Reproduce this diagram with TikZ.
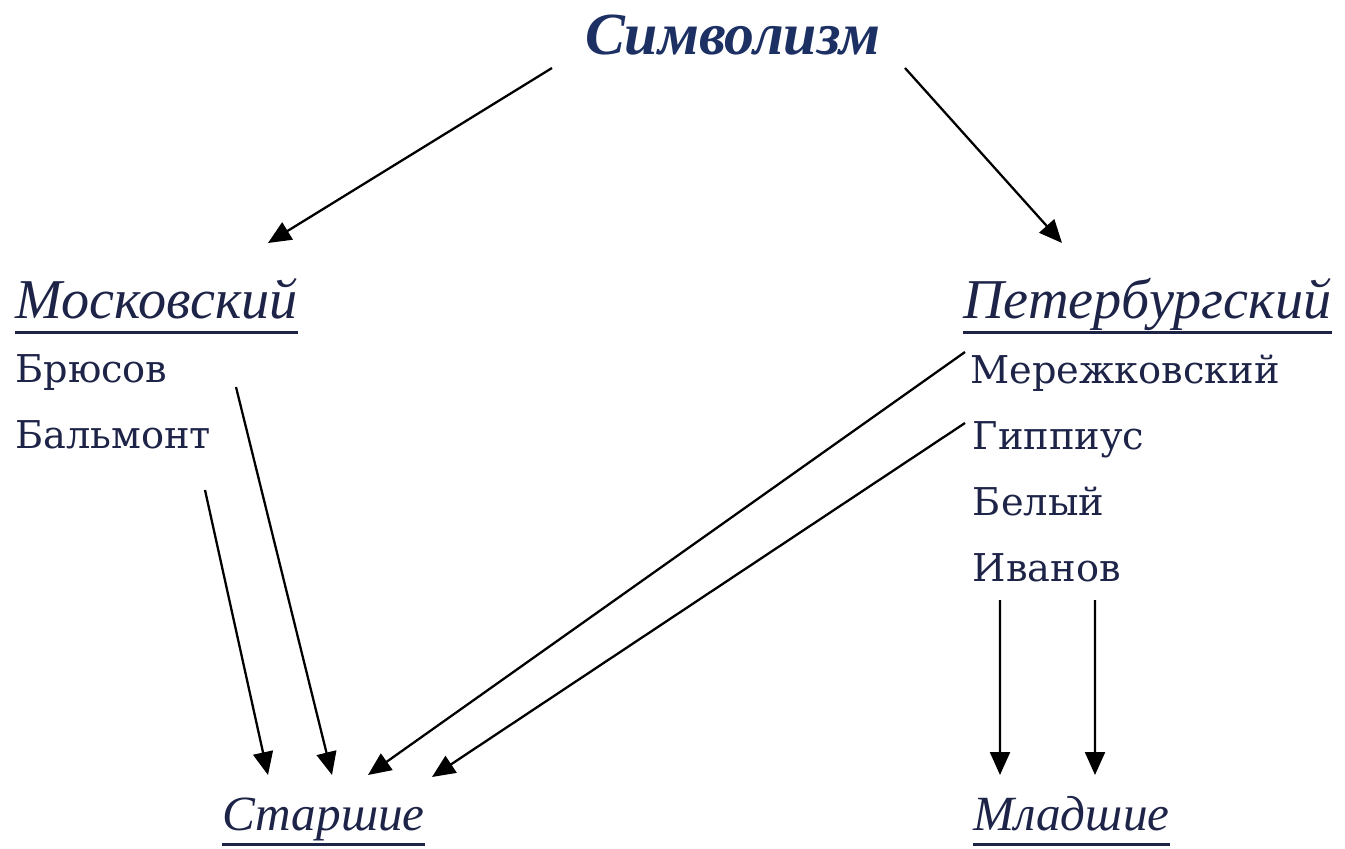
\documentclass[tikz,border=0pt]{standalone}
\usepackage{fontspec}
\setmainfont{Liberation Serif}
\newfontfamily\poetfont{DejaVu Serif}
\usetikzlibrary{arrows.meta}
\definecolor{titleblue}{RGB}{28,48,100}
\definecolor{inknavy}{RGB}{30,36,72}

\begin{document}
\begin{tikzpicture}[
		arr/.style={line width=1.3pt, -{Triangle[length=0.46cm,width=0.4cm]}},
		head/.style={inner sep=0, anchor=base west, text=inknavy, font=\fontsize{32}{32}\selectfont\itshape},
		gen/.style={head, font=\fontsize{28}{28}\selectfont\itshape},
		poet/.style={inner sep=0, anchor=base west, text=inknavy, font=\poetfont\fontsize{21.8}{22}\selectfont},
		uline/.style={line width=1.3pt, draw=inknavy}]
			\useasboundingbox (0,0) rectangle (26.9,16.96);
			
			%title
			\node[inner sep=0, anchor=base, text=titleblue, font=\fontsize{34}{34}\selectfont\bfseries\itshape] (simv) at (14.65,15.86) {Символизм};
			
			%the two schools and the two generations
			\node[head] (mosk) at (0.3,10.6) {Московский};
			\node[head] (peter) at (19.26,10.6) {Петербургский};
			\node[gen] (stars) at (4.44,0.36) {Старшие};
			\node[gen] (mlad) at (19.46,0.36) {Младшие};
			
			%underlines
			\foreach \n in {mosk,peter,stars,mlad}
			\draw[uline] ([yshift=-0.29cm]\n.base west) -- ([yshift=-0.29cm]\n.base east);
			
			%poets
			\node[poet] (bryusov) at (0.3,9.32) {Брюсов};
			\node[poet] (balmont) at (0.3,8.0) {Бальмонт};
			\node[poet] (merezh) at (19.4,9.3) {Мережковский};
			\node[poet] (gippius) at (19.45,7.98) {Гиппиус};
			\node[poet] (bely) at (19.45,6.66) {Белый};
			\node[poet] (ivanov) at (19.45,5.34) {Иванов};
			
			%arrows from the title
			\draw[arr] ([shift={(-3.61,-0.26)}]simv.base) -- ([shift={(5.06,1.5)}]mosk.base west);
			\draw[arr] ([shift={(3.45,-0.26)}]simv.base) -- ([shift={(1.98,1.5)}]peter.base west);
			
			%arrows down to the older ones
			\foreach \from/\dx/\dy/\ex/\ey in {balmont/3.8/-0.84/0.92/1.10, bryusov/4.42/-0.1/2.20/1.10, merezh/-0.1/0.62/2.92/1.10, gippius/-0.15/0.52/4.20/1.06}
			\draw[arr] ([shift={(\dx,\dy)}]\from.base west) -- ([shift={(\ex,\ey)}]stars.base west);
			
			%arrows down to the younger ones
			\foreach \dx in {0.55,2.45}
			\draw[arr] ([shift={(\dx,-0.38)}]ivanov.base west) -- ([shift={(\dx-0.01,1.10)}]mlad.base west);
		\end{tikzpicture}
\end{document}
